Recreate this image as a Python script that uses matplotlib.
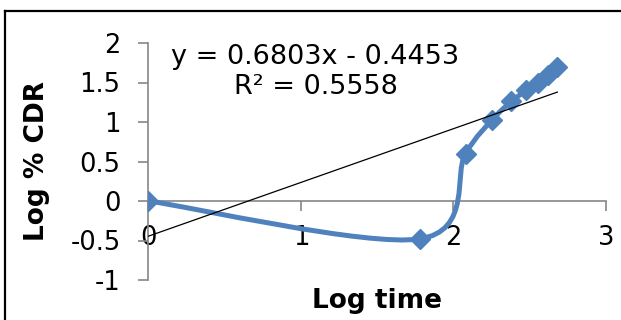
import matplotlib
matplotlib.use("Agg")
import matplotlib.pyplot as plt
from matplotlib.path import Path
from matplotlib.patches import PathPatch
from matplotlib.lines import Line2D
import numpy as np

# Data
log_time = [0.0, 1.778, 2.079, 2.255, 2.380, 2.477, 2.556, 2.623, 2.681]
log_cdr = [0.0, -0.48, 0.60, 1.03, 1.26, 1.40, 1.50, 1.59, 1.69]
slope = 0.6803
intercept = -0.4453
eq_text = "y = 0.6803x - 0.4453"
r2_text = "R² = 0.5558"
x_ticks = [0, 1, 2, 3]
y_ticks = [-1, -0.5, 0, 0.5, 1, 1.5, 2]
y_tick_labels = ["-1", "-0.5", "0", "0.5", "1", "1.5", "2"]

plt.rcParams['font.family'] = ['DejaVu Sans']

W, H = 621, 320
fig = plt.figure(figsize=(W / 100, H / 100), dpi=100)
ax = fig.add_axes([148.4 / W, 1 - 280 / H, (606 - 148.4) / W, (280 - 43) / H])

gray = '#868686'
blue = '#4F81BD'

# Smoothed line (Excel-like Catmull-Rom Bezier through the data points)
pts = np.column_stack([log_time, log_cdr])
n = len(pts)
verts = [tuple(pts[0])]
codes = [Path.MOVETO]
for i in range(n - 1):
    p0 = pts[max(i - 1, 0)]
    p1 = pts[i]
    p2 = pts[i + 1]
    p3 = pts[min(i + 2, n - 1)]
    c1 = p1 + (p2 - p0) / 6.0
    c2 = p2 - (p3 - p1) / 6.0
    verts += [tuple(c1), tuple(c2), tuple(p2)]
    codes += [Path.CURVE4] * 3
ax.add_patch(PathPatch(Path(verts, codes), facecolor='none', edgecolor=blue,
                       lw=3.6, capstyle='round', joinstyle='round', zorder=3))
ax.plot(log_time, log_cdr, linestyle='none', marker='D', markersize=10,
        color=blue, markeredgecolor=blue, zorder=4)

# Linear trendline
xt = np.array([0.0, max(log_time)])
ax.plot(xt, slope * xt + intercept, color='black', lw=0.9, zorder=5)

ax.set_xlim(0, 3)
ax.set_ylim(-1, 2)
ax.set_xticks(x_ticks)
ax.set_yticks(y_ticks)
ax.set_yticklabels(y_tick_labels)

for s in ['top', 'right']:
    ax.spines[s].set_visible(False)
ax.spines['bottom'].set_position(('data', 0))
ax.spines['bottom'].set_color(gray)
ax.spines['left'].set_color(gray)
ax.spines['bottom'].set_linewidth(1.2)
ax.spines['left'].set_linewidth(1.2)
ax.tick_params(axis='x', direction='out', length=7, width=1.2, color=gray,
               labelsize=18.5, pad=10)
ax.tick_params(axis='y', direction='out', length=7, width=1.2, color=gray,
               labelsize=18.5, pad=13)
ax.patch.set_alpha(0)

ax.text(1.092, 1.82, eq_text, ha='center', va='center', fontsize=19.5, zorder=6)
ax.text(1.10, 1.44, r2_text, ha='center', va='center', fontsize=19.5, zorder=6)

fig.text(377 / W, 1 - 301 / H, "Log time", ha='center', va='center',
         fontsize=19, fontweight='bold')
fig.text(37 / W, 1 - 161 / H, "Log % CDR", ha='center', va='center',
         fontsize=19, fontweight='bold', rotation=90)

# Border lines (left and top)
fig.add_artist(Line2D([5 / W, 5 / W], [0, 1 - 11 / H], color='black', lw=1.6,
                      transform=fig.transFigure))
fig.add_artist(Line2D([5 / W, 1], [1 - 11 / H, 1 - 11 / H], color='black', lw=1.6,
                      transform=fig.transFigure))

fig.savefig("out.png", dpi=100)
